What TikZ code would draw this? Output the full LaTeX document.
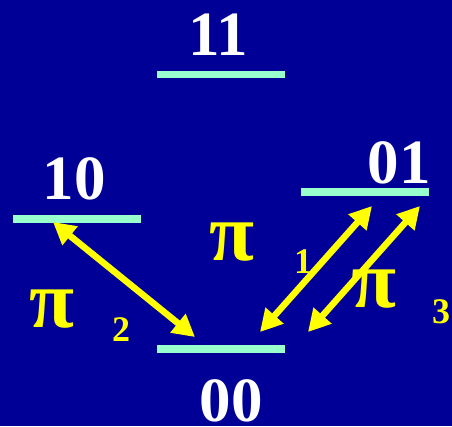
\documentclass[tikz,border=0pt]{standalone}
\usepackage{fontspec}
\setmainfont{Liberation Serif}
\usetikzlibrary{arrows.meta}
\definecolor{bgblue}{RGB}{0,0,150}
\definecolor{levelc}{RGB}{153,255,204}
\definecolor{arrowy}{RGB}{255,255,0}
\tikzset{
  level/.style={fill=levelc, draw=none, minimum width=128pt, minimum height=7.5pt, inner sep=0pt, anchor=north west},
  statelbl/.style={text=white, font=\bfseries\fontsize{63}{63}\selectfont, inner sep=0pt, anchor=base},
  pilbl/.style={text=arrowy, font=\bfseries\fontsize{82}{82}\selectfont, inner sep=0pt, anchor=base},
  numlbl/.style={text=arrowy, font=\bfseries\fontsize{36}{36}\selectfont, inner sep=0pt, anchor=base},
  trans/.style={draw=arrowy, line width=6.5pt, {Triangle[length=22pt,width=23pt]}-{Triangle[length=22pt,width=23pt]}}
}
\begin{document}
\begin{tikzpicture}[x=1pt,y=-1pt]
\fill[bgblue] (0,0) rectangle (452,426);
\useasboundingbox (0,0) rectangle (452,426);
% levels
\node[level] (l11) at (157,70.5) {};
\node[level] (l10) at (13,215) {};
\node[level] (l01) at (301,188) {};
\node[level] (l00) at (157,345) {};
% state labels
\node[statelbl] (t11) at (218.5,55) {11};
\node[statelbl] (t10) at (74,199) {10};
\node[statelbl] (t01) at (399,183) {01};
\node[statelbl] (t00) at (231,421) {00};
% arrow end points
\coordinate (a2top) at (53,222);
\coordinate (a2bot) at (195,337);
\coordinate (a1top) at (372,206);
\coordinate (a1bot) at (260,332);
\coordinate (a3top) at (420,206);
\coordinate (a3bot) at (308,332);
\draw[trans] (a2top) -- (a2bot);
\draw[trans] (a1top) -- (a1bot);
\draw[trans] (a3top) -- (a3bot);
% pi labels
\node[pilbl] (pic) at (232,260) {π};
\node[pilbl] (pil) at (52,327) {π};
\node[pilbl] (pir) at (374,307) {π};
% numbers
\node[numlbl] (n1) at (303,273) {1};
\node[numlbl] (n2) at (121,341) {2};
\node[numlbl] (n3) at (441,323) {3};
\end{tikzpicture}
\end{document}
